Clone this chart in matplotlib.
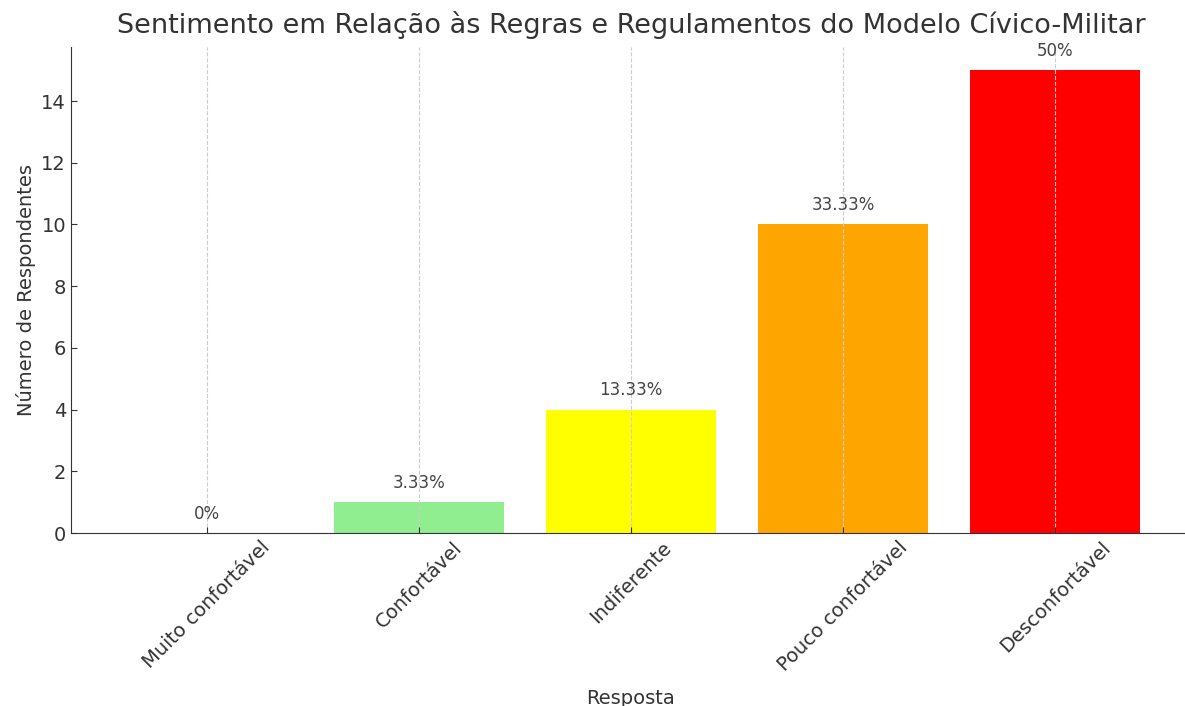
import matplotlib
matplotlib.use("Agg")
import matplotlib.pyplot as plt

categorias = ["Muito confortável", "Confortável", "Indiferente",
              "Pouco confortável", "Desconfortável"]
respondentes = [0, 1, 4, 10, 15]
percentuais = ["0%", "3.33%", "13.33%", "33.33%", "50%"]
cores = ["darkgreen", "lightgreen", "yellow", "orange", "red"]

texto = "#333333"
plt.rcParams["text.color"] = texto
plt.rcParams["axes.labelcolor"] = texto
plt.rcParams["xtick.color"] = texto
plt.rcParams["ytick.color"] = texto

fig = plt.figure(figsize=(11.85, 7.06), dpi=100)
ax = fig.add_axes([0.0599, 0.245, 0.9449, 0.6884])

x = range(len(categorias))
ax.bar(x, respondentes, color=cores, width=0.8)

# porcentagens acima das barras
for xi, h, p in zip(x, respondentes, percentuais):
    ax.annotate(p, (xi, h), xytext=(0, 14), textcoords="offset points",
                ha="center", va="center", fontsize=12, color="#444444")

ax.set_xticks(list(x))
ax.set_xticklabels(categorias, rotation=45, ha="center", fontsize=14)
ax.tick_params(axis="y", labelsize=14)
ax.tick_params(axis="both", direction="in", length=4)
ax.set_xlim(-0.64, 4.64)
ax.set_ylim(0, 15.75)

ax.grid(axis="x", linestyle="--", color="#cccccc", linewidth=0.8)
ax.set_axisbelow(False)
for s in ["top", "right"]:
    ax.spines[s].set_visible(False)
ax.spines["left"].set_color(texto)
ax.spines["bottom"].set_color(texto)

ax.set_title("Sentimento em Relação às Regras e Regulamentos do Modelo Cívico-Militar",
             fontsize=19.5, pad=10)
ax.set_xlabel("Resposta", fontsize=14, labelpad=10)
ax.set_ylabel("Número de Respondentes", fontsize=14)

fig.savefig("out.png", dpi=100)
